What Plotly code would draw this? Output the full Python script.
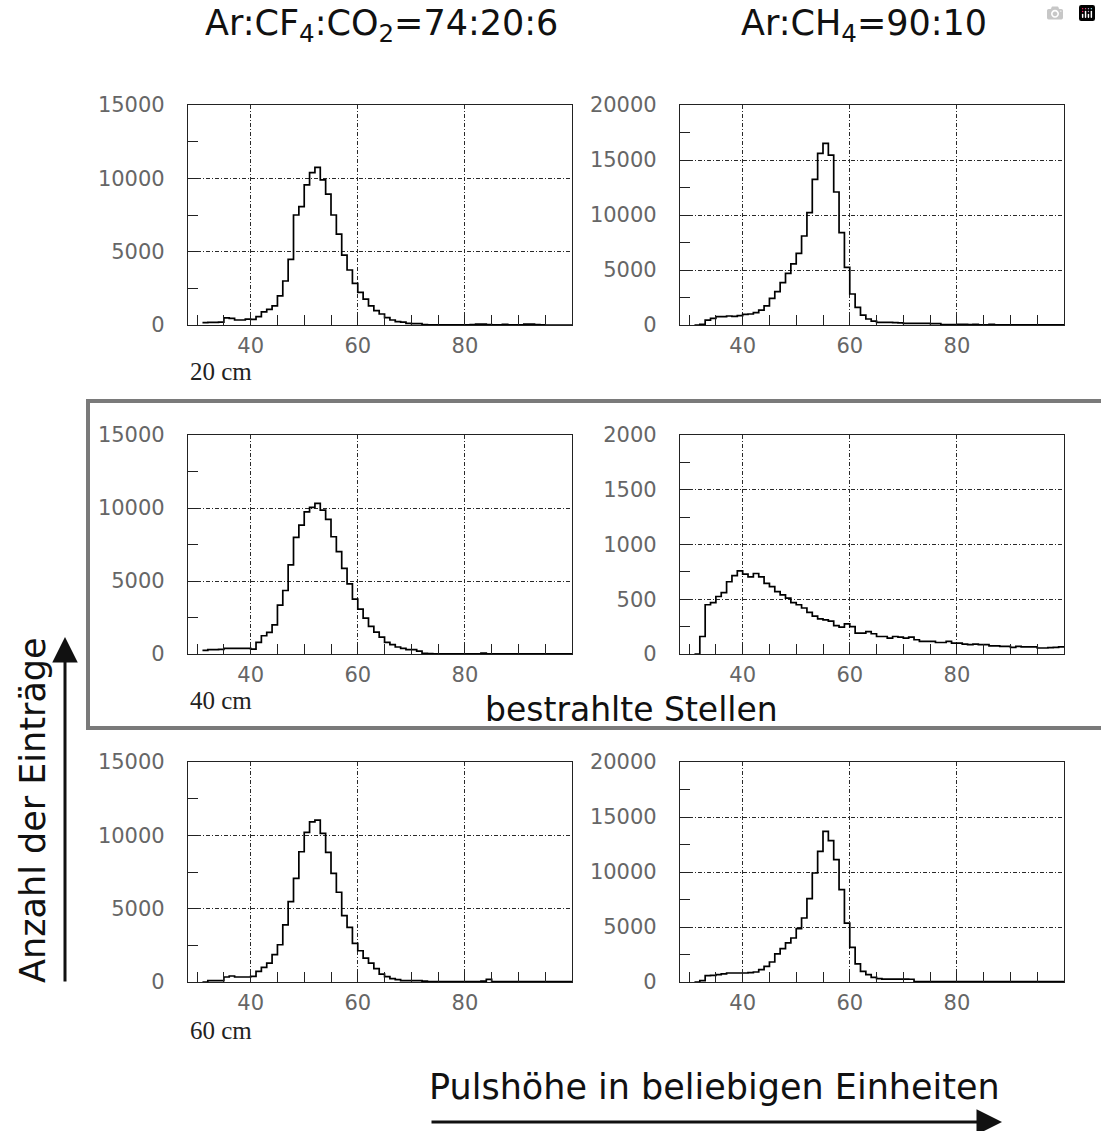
import plotly.graph_objects as go

# ---------------- data ----------------
bin_left = list(range(31, 100))          # left edges of 1-unit bins, 31..99
x_end = 100

counts_cf4_20cm = [160, 180, 180, 200, 480, 450, 340, 340, 400, 390,
                   570, 900, 1070, 1300, 1980, 3000, 4480, 7500, 8070, 9550,
                   10390, 10750, 9890, 8930, 7500, 6200, 4770, 3750, 2840, 2230,
                   1770, 1300, 980, 750, 500, 340, 230, 200, 110, 100,
                   90, 20, 10, 10, 10, 10, 10, 10, 10, 10,
                   20, 60, 60, 30, 10, 10, 50, 10, 10, 10,
                   60, 60, 30, 10, 0, 0, 0, 0, 0]

counts_ch4_20cm = [0, 60, 450, 600, 760, 760, 820, 780, 850, 970,
                   1000, 1120, 1360, 1730, 2420, 3030, 3850, 4700, 5550, 6510,
                   8090, 10210, 13240, 15600, 16510, 15450, 12090, 8390, 5240, 2820,
                   1600, 900, 545, 360, 240, 240, 230, 220, 200, 150,
                   150, 140, 140, 140, 130, 120, 40, 30, 30, 60,
                   60, 30, 50, 20, 20, 50, 20, 10, 10, 10,
                   10, 10, 10, 10, 10, 10, 10, 10, 10]

counts_cf4_40cm = [250, 300, 300, 320, 390, 390, 390, 380, 380, 340,
                   800, 1250, 1480, 2000, 3350, 4350, 6100, 7990, 8830, 9740,
                   10040, 10310, 9860, 9220, 8030, 7010, 5870, 4800, 3760, 3070,
                   2460, 1890, 1500, 1160, 800, 640, 480, 390, 300, 300,
                   200, 40, 20, 10, 10, 10, 10, 10, 10, 10,
                   10, 10, 60, 10, 10, 10, 10, 10, 10, 10,
                   10, 10, 10, 10, 10, 10, 10, 10, 10]

counts_ch4_40cm = [0, 160, 450, 470, 525, 560, 660, 715, 760, 730,
                   705, 735, 705, 645, 615, 570, 540, 510, 470, 450,
                   420, 380, 345, 320, 312, 300, 260, 245, 275, 250,
                   190, 190, 205, 185, 160, 160, 145, 160, 155, 145,
                   155, 130, 115, 115, 115, 105, 105, 115, 100, 100,
                   90, 85, 90, 85, 85, 75, 75, 70, 70, 60,
                   70, 65, 65, 65, 55, 55, 58, 60, 65]

counts_cf4_60cm = [0, 90, 90, 90, 340, 410, 340, 340, 340, 385,
                   725, 1000, 1290, 1860, 2540, 3900, 5480, 7070, 8880, 10200,
                   10920, 11040, 10130, 8840, 7410, 6120, 4530, 3720, 2630, 2130,
                   1630, 1290, 910, 540, 360, 230, 160, 90, 90, 90,
                   90, 60, 20, 20, 20, 20, 20, 20, 20, 20,
                   20, 20, 60, 180, 30, 20, 20, 20, 20, 20,
                   20, 20, 20, 20, 20, 20, 20, 20, 20]

counts_ch4_60cm = [0, 120, 575, 600, 670, 730, 820, 820, 820, 820,
                   850, 910, 1120, 1420, 1820, 2550, 3030, 3550, 4000, 4850,
                   5820, 7580, 9910, 11880, 13700, 12850, 11120, 8390, 5360, 3150,
                   1640, 970, 670, 420, 300, 270, 270, 270, 270, 270,
                   250, 30, 30, 30, 30, 30, 30, 30, 30, 30,
                   30, 30, 30, 30, 30, 30, 30, 30, 30, 30,
                   30, 30, 30, 30, 30, 30, 30, 30, 30]

x_tick_vals = [40, 60, 80]
x_tick_text = ["40", "60", "80"]
x_minor_vals = [30, 35, 45, 50, 55, 65, 70, 75, 85, 90, 95]

y_ticks_15000 = [0, 5000, 10000, 15000]
y_minor_15000 = [2500, 7500, 12500]
y_ticks_20000 = [0, 5000, 10000, 15000, 20000]
y_minor_20000 = [2500, 7500, 12500, 17500]
y_ticks_2000 = [0, 500, 1000, 1500, 2000]
y_minor_2000 = [250, 750, 1250, 1750]

title_left = "Ar:CF<sub>4</sub>:CO<sub>2</sub>=74:20:6"
title_right = "Ar:CH<sub>4</sub>=90:10"
distance_labels = ["20 cm", "40 cm", "60 cm"]
y_label = "Anzahl der Einträge"
x_label = "Pulshöhe in beliebigen Einheiten"
box_label = "bestrahlte Stellen"

# ---------------- layout geometry (pixels) ----------------
W, H = 1101, 1131
col_px = [(188, 572), (680, 1064)]
row_px = [(105, 325), (435, 654), (762, 982)]

panels = [
    (0, 0, counts_cf4_20cm, y_ticks_15000, y_minor_15000),
    (0, 1, counts_ch4_20cm, y_ticks_20000, y_minor_20000),
    (1, 0, counts_cf4_40cm, y_ticks_15000, y_minor_15000),
    (1, 1, counts_ch4_40cm, y_ticks_2000, y_minor_2000),
    (2, 0, counts_cf4_60cm, y_ticks_15000, y_minor_15000),
    (2, 1, counts_ch4_60cm, y_ticks_20000, y_minor_20000),
]

fig = go.Figure()
layout = {}
tick_font = dict(family="DejaVu Sans", size=21, color="#666666")
GRID = "#2a2a2a"

for i, (r, c, counts, yt, ym) in enumerate(panels, start=1):
    xs = bin_left + [x_end]
    ys = counts + [counts[-1]]
    fig.add_trace(go.Scatter(x=xs, y=ys, mode="lines", line_shape="hv",
                             line=dict(color="black", width=1.7),
                             xaxis=f"x{i}", yaxis=f"y{i}", showlegend=False,
                             hoverinfo="skip"))
    x0, x1 = col_px[c]
    y0, y1 = row_px[r]
    xa = dict(domain=[x0 / W, x1 / W], range=[28.3, 100], anchor=f"y{i}",
              tickmode="array", tickvals=x_tick_vals, ticktext=x_tick_text,
              ticks="inside", ticklen=10, tickcolor="#222", tickwidth=1,
              minor=dict(tickvals=x_minor_vals, ticks="inside", ticklen=10,
                         tickcolor="#222", tickwidth=1, showgrid=False),
              showgrid=True, gridcolor=GRID, gridwidth=1, griddash="4px,2px,1px,2px",
              showline=True, mirror=True, linecolor="#222", linewidth=1.2,
              zeroline=False, tickfont=tick_font, ticklabelstandoff=2,
              automargin=False, fixedrange=True)
    ya = dict(domain=[1 - y1 / H, 1 - y0 / H], range=[0, yt[-1]], anchor=f"x{i}",
              tickmode="array", tickvals=yt, ticktext=[str(v) for v in yt],
              ticks="inside", ticklen=10, tickcolor="#222", tickwidth=1,
              minor=dict(tickvals=ym, ticks="inside", ticklen=10,
                         tickcolor="#222", tickwidth=1, showgrid=False),
              showgrid=True, gridcolor=GRID, gridwidth=1, griddash="4px,2px,1px,2px",
              showline=True, mirror=True, linecolor="#222", linewidth=1.2,
              zeroline=False, tickfont=tick_font, ticklabelstandoff=18,
              automargin=False, fixedrange=True)
    sfx = "" if i == 1 else str(i)
    layout[f"xaxis{sfx}"] = xa
    layout[f"yaxis{sfx}"] = ya

annotations = []
big_font = dict(family="DejaVu Sans", size=35, color="#111111")
annotations.append(dict(text=title_left, x=381 / W, y=1 - 26 / H, xref="paper", yref="paper",
                        showarrow=False, font=big_font, xanchor="center", yanchor="middle"))
annotations.append(dict(text=title_right, x=864 / W, y=1 - 26 / H, xref="paper", yref="paper",
                        showarrow=False, font=big_font, xanchor="center", yanchor="middle"))
for lbl, ypx in zip(distance_labels, [372, 700, 1030]):
    annotations.append(dict(text=lbl, x=188 / W, y=1 - ypx / H, xref="paper", yref="paper",
                            showarrow=False, xanchor="left", yanchor="middle",
                            font=dict(family="Liberation Serif", size=25, color="#222")))
annotations.append(dict(text=box_label, x=631 / W, y=1 - 709 / H, xref="paper", yref="paper",
                        showarrow=False, font=dict(family="DejaVu Sans", size=33, color="#111111"),
                        xanchor="center", yanchor="middle"))
annotations.append(dict(text=x_label, x=714 / W, y=1 - 1087 / H, xref="paper", yref="paper",
                        showarrow=False, font=big_font, xanchor="center", yanchor="middle"))
annotations.append(dict(text=y_label, x=33 / W, y=1 - 810 / H, xref="paper", yref="paper",
                        showarrow=False, font=big_font, textangle=-90,
                        xanchor="center", yanchor="middle"))
# arrows
annotations.append(dict(text="", x=65 / W, y=1 - 637 / H, xref="paper", yref="paper",
                        ax=0, ay=346, showarrow=True, arrowhead=2, arrowsize=1.7,
                        arrowwidth=3, arrowcolor="#111"))
annotations.append(dict(text="", x=1002 / W, y=1 - 1122 / H, xref="paper", yref="paper",
                        ax=-572, ay=0, showarrow=True, arrowhead=2, arrowsize=1.7,
                        arrowwidth=3, arrowcolor="#111"))

shapes = [dict(type="rect", xref="paper", yref="paper",
               x0=88 / W, x1=1110 / W, y0=1 - 728 / H, y1=1 - 401 / H,
               line=dict(color="#7a7a7a", width=4), fillcolor="rgba(0,0,0,0)")]

fig.update_layout(width=W, height=H, margin=dict(l=0, r=0, t=0, b=0, pad=0),
                  paper_bgcolor="white", plot_bgcolor="white",
                  annotations=annotations, shapes=shapes, showlegend=False,
                  **layout)

fig.write_html("out.html",
               post_script="document.body.style.margin='0';document.body.style.padding='0';document.body.style.overflow='hidden';")
